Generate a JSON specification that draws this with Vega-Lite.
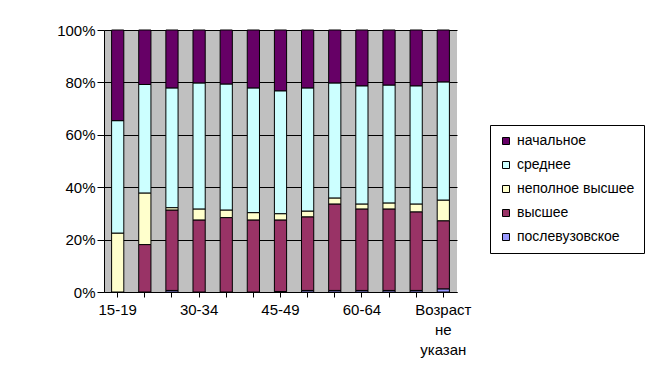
{
  "$schema": "https://vega.github.io/schema/vega-lite/v6.json",
  "width": 353,
  "height": 262,
  "autosize": "none",
  "padding": {"left": 104, "top": 30, "right": 203, "bottom": 89},
  "background": "white",
  "data": {"values": [
    {"age": "15-19", "edu": "послевузовское", "v": 0},
    {"age": "15-19", "edu": "высшее", "v": 0},
    {"age": "15-19", "edu": "неполное высшее", "v": 22.5},
    {"age": "15-19", "edu": "среднее", "v": 42.9},
    {"age": "15-19", "edu": "начальное", "v": 34.6},
    {"age": "20-24", "edu": "послевузовское", "v": 0},
    {"age": "20-24", "edu": "высшее", "v": 18.1},
    {"age": "20-24", "edu": "неполное высшее", "v": 19.7},
    {"age": "20-24", "edu": "среднее", "v": 41.4},
    {"age": "20-24", "edu": "начальное", "v": 20.8},
    {"age": "25-29", "edu": "послевузовское", "v": 0.6},
    {"age": "25-29", "edu": "высшее", "v": 30.7},
    {"age": "25-29", "edu": "неполное высшее", "v": 0.9},
    {"age": "25-29", "edu": "среднее", "v": 45.7},
    {"age": "25-29", "edu": "начальное", "v": 22.1},
    {"age": "30-34", "edu": "послевузовское", "v": 0},
    {"age": "30-34", "edu": "высшее", "v": 27.5},
    {"age": "30-34", "edu": "неполное высшее", "v": 4.2},
    {"age": "30-34", "edu": "среднее", "v": 48.1},
    {"age": "30-34", "edu": "начальное", "v": 20.2},
    {"age": "35-39", "edu": "послевузовское", "v": 0},
    {"age": "35-39", "edu": "высшее", "v": 28.4},
    {"age": "35-39", "edu": "неполное высшее", "v": 2.9},
    {"age": "35-39", "edu": "среднее", "v": 48.1},
    {"age": "35-39", "edu": "начальное", "v": 20.6},
    {"age": "40-44", "edu": "послевузовское", "v": 0},
    {"age": "40-44", "edu": "высшее", "v": 27.5},
    {"age": "40-44", "edu": "неполное высшее", "v": 2.8},
    {"age": "40-44", "edu": "среднее", "v": 47.6},
    {"age": "40-44", "edu": "начальное", "v": 22.1},
    {"age": "45-49", "edu": "послевузовское", "v": 0.2},
    {"age": "45-49", "edu": "высшее", "v": 27.3},
    {"age": "45-49", "edu": "неполное высшее", "v": 2.4},
    {"age": "45-49", "edu": "среднее", "v": 46.9},
    {"age": "45-49", "edu": "начальное", "v": 23.2},
    {"age": "50-54", "edu": "послевузовское", "v": 0.6},
    {"age": "50-54", "edu": "высшее", "v": 28.1},
    {"age": "50-54", "edu": "неполное высшее", "v": 2.2},
    {"age": "50-54", "edu": "среднее", "v": 47.0},
    {"age": "50-54", "edu": "начальное", "v": 22.1},
    {"age": "55-59", "edu": "послевузовское", "v": 0.6},
    {"age": "55-59", "edu": "высшее", "v": 33.0},
    {"age": "55-59", "edu": "неполное высшее", "v": 2.3},
    {"age": "55-59", "edu": "среднее", "v": 43.9},
    {"age": "55-59", "edu": "начальное", "v": 20.2},
    {"age": "60-64", "edu": "послевузовское", "v": 0.6},
    {"age": "60-64", "edu": "высшее", "v": 31.1},
    {"age": "60-64", "edu": "неполное высшее", "v": 1.9},
    {"age": "60-64", "edu": "среднее", "v": 45.1},
    {"age": "60-64", "edu": "начальное", "v": 21.3},
    {"age": "65-69", "edu": "послевузовское", "v": 0.6},
    {"age": "65-69", "edu": "высшее", "v": 31.1},
    {"age": "65-69", "edu": "неполное высшее", "v": 2.3},
    {"age": "65-69", "edu": "среднее", "v": 45.0},
    {"age": "65-69", "edu": "начальное", "v": 21.0},
    {"age": "70 и старше", "edu": "послевузовское", "v": 0.6},
    {"age": "70 и старше", "edu": "высшее", "v": 30.0},
    {"age": "70 и старше", "edu": "неполное высшее", "v": 3.0},
    {"age": "70 и старше", "edu": "среднее", "v": 45.1},
    {"age": "70 и старше", "edu": "начальное", "v": 21.3},
    {"age": "Возраст не указан", "edu": "послевузовское", "v": 1.2},
    {"age": "Возраст не указан", "edu": "высшее", "v": 26.0},
    {"age": "Возраст не указан", "edu": "неполное высшее", "v": 7.9},
    {"age": "Возраст не указан", "edu": "среднее", "v": 45.1},
    {"age": "Возраст не указан", "edu": "начальное", "v": 19.8}
  ]},
  "transform": [
    {"calculate": "indexof(['послевузовское','высшее','неполное высшее','среднее','начальное'], datum.edu)", "as": "rank"}
  ],
  "mark": {"type": "bar", "stroke": "black", "strokeWidth": 1},
  "encoding": {
    "x": {
      "field": "age", "type": "nominal", "sort": null,
      "scale": {"paddingInner": 0.55, "paddingOuter": 0.28},
      "axis": {
        "title": null, "labelAngle": 0, "domainColor": "black", "tickColor": "black",
        "tickSize": 5, "labelPadding": 5, "labelLineHeight": 20, "labelBaseline": "top",
        "labelExpr": "datum.value == 'Возраст не указан' ? ['Возраст','не','указан'] : (indexof(['15-19','30-34','45-49','60-64'], datum.value) >= 0 ? datum.label : '')"
      }
    },
    "y": {
      "field": "v", "type": "quantitative", "stack": "normalize",
      "axis": {
        "title": null, "format": ".0%", "values": [0, 0.2, 0.4, 0.6, 0.8, 1],
        "domainColor": "black", "tickColor": "black", "tickSize": 7, "labelPadding": 2,
        "grid": true, "gridColor": "black", "gridWidth": 1
      }
    },
    "color": {
      "field": "edu", "type": "nominal",
      "scale": {
        "domain": ["начальное", "среднее", "неполное высшее", "высшее", "послевузовское"],
        "range": ["#660066", "#CCFFFF", "#FFFFCC", "#993366", "#9999FF"]
      },
      "legend": {
        "title": null, "orient": "none", "legendX": 386, "legendY": 95,
        "strokeColor": "black", "fillColor": "white", "padding": 9,
        "symbolType": "square", "symbolSize": 49, "symbolStrokeColor": "black", "symbolStrokeWidth": 1,
        "labelFontSize": 14, "rowPadding": 10, "labelOffset": 4
      }
    },
    "order": {"field": "rank", "type": "quantitative"}
  },
  "config": {
    "view": {"fill": "#C0C0C0", "stroke": null},
    "font": "Liberation Sans",
    "axis": {"labelFont": "Liberation Sans", "labelFontSize": 15, "labelColor": "black"},
    "legend": {"labelFont": "Liberation Sans", "labelColor": "black"}
  }
}
